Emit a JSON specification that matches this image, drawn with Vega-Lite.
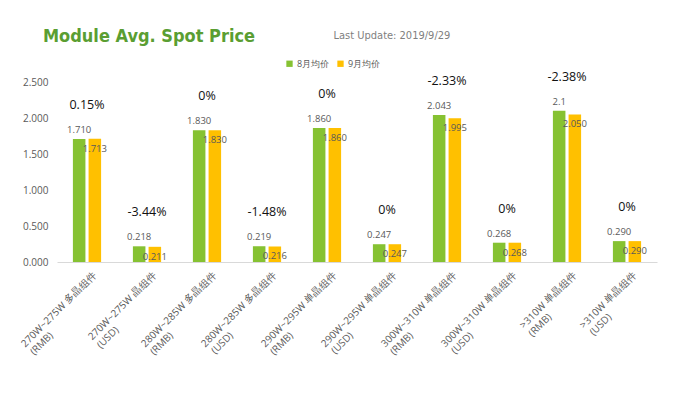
{
  "$schema": "https://vega.github.io/schema/vega-lite/v6.json",
  "autosize": "none",
  "width": 600,
  "height": 180,
  "padding": {"left": 57, "top": 82, "right": 21, "bottom": 132},
  "background": "white",
  "title": {
    "text": "Module Avg. Spot Price",
    "anchor": "start",
    "frame": "group",
    "dx": -14,
    "offset": -17,
    "font": "'DejaVu Sans Condensed', Roboto",
    "fontSize": 18,
    "fontWeight": "bold",
    "color": "#5a9e32"
  },
  "config": {
    "view": {"stroke": null},
    "font": "Open Sans"
  },
  "data": {
    "values": [
      {"cat": "270W~275W 多晶组件 (RMB)", "series": "8月均价", "value": 1.71, "label": "1.710", "pct": "0.15%"},
      {"cat": "270W~275W 多晶组件 (RMB)", "series": "9月均价", "value": 1.713, "label": "1.713", "pct": "0.15%"},
      {"cat": "270W~275W 晶组件 (USD)", "series": "8月均价", "value": 0.218, "label": "0.218", "pct": "-3.44%"},
      {"cat": "270W~275W 晶组件 (USD)", "series": "9月均价", "value": 0.211, "label": "0.211", "pct": "-3.44%"},
      {"cat": "280W~285W 多晶组件 (RMB)", "series": "8月均价", "value": 1.83, "label": "1.830", "pct": "0%"},
      {"cat": "280W~285W 多晶组件 (RMB)", "series": "9月均价", "value": 1.83, "label": "1.830", "pct": "0%"},
      {"cat": "280W~285W 多晶组件 (USD)", "series": "8月均价", "value": 0.219, "label": "0.219", "pct": "-1.48%"},
      {"cat": "280W~285W 多晶组件 (USD)", "series": "9月均价", "value": 0.216, "label": "0.216", "pct": "-1.48%"},
      {"cat": "290W~295W 单晶组件 (RMB)", "series": "8月均价", "value": 1.86, "label": "1.860", "pct": "0%"},
      {"cat": "290W~295W 单晶组件 (RMB)", "series": "9月均价", "value": 1.86, "label": "1.860", "pct": "0%"},
      {"cat": "290W~295W 单晶组件 (USD)", "series": "8月均价", "value": 0.247, "label": "0.247", "pct": "0%"},
      {"cat": "290W~295W 单晶组件 (USD)", "series": "9月均价", "value": 0.247, "label": "0.247", "pct": "0%"},
      {"cat": "300W~310W 单晶组件 (RMB)", "series": "8月均价", "value": 2.043, "label": "2.043", "pct": "-2.33%"},
      {"cat": "300W~310W 单晶组件 (RMB)", "series": "9月均价", "value": 1.995, "label": "1.995", "pct": "-2.33%"},
      {"cat": "300W~310W 单晶组件 (USD)", "series": "8月均价", "value": 0.268, "label": "0.268", "pct": "0%"},
      {"cat": "300W~310W 单晶组件 (USD)", "series": "9月均价", "value": 0.268, "label": "0.268", "pct": "0%"},
      {"cat": ">310W 单晶组件 (RMB)", "series": "8月均价", "value": 2.1, "label": "2.1", "pct": "-2.38%"},
      {"cat": ">310W 单晶组件 (RMB)", "series": "9月均价", "value": 2.05, "label": "2.050", "pct": "-2.38%"},
      {"cat": ">310W 单晶组件 (USD)", "series": "8月均价", "value": 0.29, "label": "0.290", "pct": "0%"},
      {"cat": ">310W 单晶组件 (USD)", "series": "9月均价", "value": 0.29, "label": "0.290", "pct": "0%"}
    ]
  },
  "encoding": {
    "x": {
      "field": "cat",
      "type": "nominal",
      "sort": null,
      "scale": {"paddingInner": 0.53, "paddingOuter": 0.265},
      "axis": {
        "title": null,
        "labelAngle": -45,
        "labelAlign": "right",
        "labelBaseline": "top",
        "labelPadding": 8,
        "labelOffset": 4,
        "labelFontSize": 10,
        "labelColor": "#595959",
        "labelLineHeight": 12,
        "labelExpr": "[substring(datum.label, 0, indexof(datum.label, ' (')), pad(substring(datum.label, indexof(datum.label, ' (') + 1), 5 + round((6.75 * indexof(datum.label, ' (') - 22) / 2.6), '\u00a0') + '\u2060']",
        "ticks": false,
        "domainColor": "#d9d9d9",
        "labelOverlap": false
      }
    },
    "y": {
      "field": "value",
      "type": "quantitative",
      "scale": {"domain": [0, 2.5], "nice": false},
      "axis": {
        "title": "Last Update: 2019/9/29",
        "titleAngle": 0,
        "titleX": 276,
        "titleY": -47,
        "titleAlign": "left",
        "titleBaseline": "middle",
        "titleFont": "'DejaVu Sans Condensed', Roboto",
        "titleFontSize": 11,
        "titleFontWeight": "normal",
        "titleColor": "#7f7f7f",
        "values": [0, 0.5, 1, 1.5, 2, 2.5],
        "format": ".3f",
        "labelFontSize": 10,
        "labelColor": "#595959",
        "labelPadding": 9,
        "labelOverlap": false,
        "ticks": false,
        "domain": false,
        "grid": false
      }
    }
  },
  "layer": [
    {
      "mark": {"type": "bar"},
      "encoding": {
        "xOffset": {"field": "series", "type": "nominal", "scale": {"paddingInner": 0.2}},
        "color": {
          "field": "series",
          "type": "nominal",
          "scale": {"domain": ["8月均价", "9月均价"], "range": ["#86c232", "#ffc000"]},
          "legend": {
            "title": null,
            "orient": "none",
            "direction": "horizontal",
            "legendX": 228,
            "legendY": -23,
            "symbolType": "square",
            "symbolSize": 40,
            "labelFontSize": 9,
            "labelColor": "#595959",
            "columnPadding": 6,
            "labelOffset": 3
          }
        }
      }
    },
    {
      "transform": [{"filter": "datum.series == '8月均价'"}],
      "mark": {"type": "text", "dy": -9, "fontSize": 9.5, "color": "#595959"},
      "encoding": {
        "xOffset": {"field": "series", "type": "nominal", "scale": {"domain": ["8月均价", "9月均价"]}},
        "text": {"field": "label"}
      }
    },
    {
      "transform": [{"filter": "datum.series == '9月均价'"}],
      "mark": {"type": "text", "dy": 10, "fontSize": 9.5, "color": "#595959"},
      "encoding": {
        "xOffset": {"field": "series", "type": "nominal", "scale": {"domain": ["8月均价", "9月均价"]}},
        "text": {"field": "label"}
      }
    },
    {
      "transform": [
        {"joinaggregate": [{"op": "max", "field": "value", "as": "top"}], "groupby": ["cat"]},
        {"filter": "datum.series == '8月均价'"}
      ],
      "mark": {"type": "text", "dy": -34, "fontSize": 12.5, "color": "#111111"},
      "encoding": {
        "y": {
          "field": "top",
          "type": "quantitative",
          "scale": {"domain": [0, 2.5], "nice": false},
          "axis": {
            "title": "Last Update: 2019/9/29",
            "titleAngle": 0,
            "titleX": 276,
            "titleY": -47,
            "titleAlign": "left",
            "titleBaseline": "middle",
            "titleFont": "'DejaVu Sans Condensed', Roboto",
            "titleFontSize": 11,
            "titleFontWeight": "normal",
            "titleColor": "#7f7f7f",
            "values": [0, 0.5, 1, 1.5, 2, 2.5],
            "format": ".3f",
            "labelFontSize": 10,
            "labelColor": "#595959",
            "labelPadding": 9,
            "labelOverlap": false,
            "ticks": false,
            "domain": false,
            "grid": false
          }
        },
        "text": {"field": "pct"}
      }
    }
  ]
}
